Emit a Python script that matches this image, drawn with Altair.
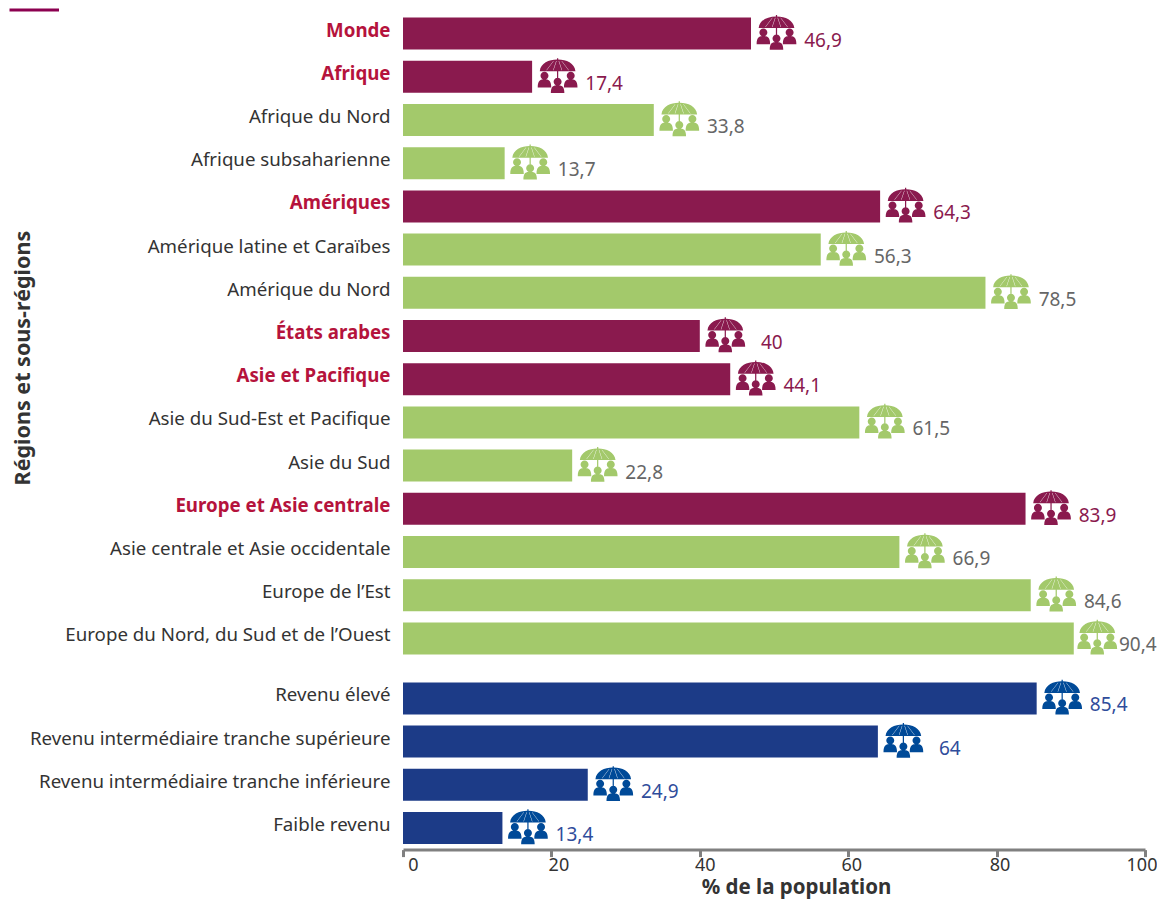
import altair as alt
import pandas as pd

FONT = "Noto Sans"

regions = ["Monde", "Afrique", "Afrique du Nord", "Afrique subsaharienne", "Amériques",
           "Amérique latine et Caraïbes", "Amérique du Nord", "États arabes", "Asie et Pacifique",
           "Asie du Sud-Est et Pacifique", "Asie du Sud", "Europe et Asie centrale",
           "Asie centrale et Asie occidentale", "Europe de l’Est",
           "Europe du Nord, du Sud et de l’Ouest"]
region_values = [46.9, 17.4, 33.8, 13.7, 64.3, 56.3, 78.5, 40, 44.1, 61.5, 22.8, 83.9, 66.9, 84.6, 90.4]
region_levels = ["region", "region", "sub", "sub", "region", "sub", "sub", "region", "region",
                 "sub", "sub", "region", "sub", "sub", "sub"]

incomes = ["Revenu élevé", "Revenu intermédiaire tranche supérieure",
           "Revenu intermédiaire tranche inférieure", "Faible revenu"]
income_values = [85.4, 64, 24.9, 13.4]

tick_values = [0, 20, 40, 60, 80, 100]


def fmt(v):
    return f"{v:g}".replace(".", ",")


top = pd.DataFrame({"name": regions, "value": region_values, "level": region_levels,
                    "label": [fmt(v) for v in region_values]})
bottom = pd.DataFrame({"name": incomes, "value": income_values, "level": ["income"] * 4,
                       "label": [fmt(v) for v in income_values]})


def head(cx, cy, r=0.195):
    return f"M{cx-r} {cy}A{r} {r} 0 1 1 {cx+r} {cy}A{r} {r} 0 1 1 {cx-r} {cy}Z"


def body(cx, top_y, bot_y, w=0.33):
    return (f"M{cx-w} {bot_y}C{cx-w} {top_y+0.05} {cx-w*0.6} {top_y} {cx} {top_y}"
            f"C{cx+w*0.6} {top_y} {cx+w} {top_y+0.05} {cx+w} {bot_y}Z")


def slit(x_top, x_bot, w=0.02):
    return (f"M{x_top} -0.72L{x_bot} -0.27L{x_bot+w} -0.27L{x_top+w} -0.72Z")


ICON = (
    "M-0.87 -0.22C-0.83 -0.62 -0.42 -0.79 -0.03 -0.79L-0.03 -0.86L0.03 -0.86L0.03 -0.79"
    "C0.42 -0.79 0.83 -0.62 0.87 -0.22Z"
    + slit(-0.21, -0.55) + slit(-0.07, -0.22) + slit(0.05, 0.2) + slit(0.19, 0.53)
    + "M-0.03 -0.3L0.03 -0.3L0.03 0.12L-0.03 0.12Z"
    + head(-0.64, 0.0) + body(-0.64, 0.17, 0.57)
    + head(0.64, 0.0) + body(0.64, 0.17, 0.57)
    + head(0.0, 0.29) + body(0.0, 0.46, 0.84)
)

levels = ["region", "sub", "income"]
bar_scale = alt.Scale(domain=levels, range=["#8a1a4e", "#a3c96b", "#1c3b87"])
icon_scale = alt.Scale(domain=levels, range=["#8a1a4e", "#a3c96b", "#004a98"])
text_scale = alt.Scale(domain=levels, range=["#8a1a4e", "#666666", "#2f4c9b"])
x_scale = alt.Scale(domain=[0, 100], nice=False)
strong = [n for n, l in zip(regions, region_levels) if l == "region"]
strong_test = "indexof(" + repr(strong) + ", datum.value) >= 0"
lab_offsets = "{'0':10,'20':7,'40':5,'60':3,'80':3,'100':-3.5}[datum.value]"


def panel(df, names, y_axis, x_axis):
    y = alt.Y("name:N", sort=None, axis=y_axis,
              scale=alt.Scale(domain=names, paddingInner=0.26, paddingOuter=0.13))
    x = alt.X("value:Q", scale=x_scale, axis=x_axis)
    base = alt.Chart(df).encode(y=y)
    bars = base.mark_bar(cornerRadius=0).encode(
        x=x, color=alt.Color("level:N", scale=bar_scale, legend=None))
    icons = base.mark_point(shape=ICON, size=1681, filled=True, opacity=1,
                            xOffset=alt.expr("datum.value > 90 ? 23.5 : 25.5"), yOffset=-1,
                            strokeWidth=0).encode(
        x=alt.X("value:Q", scale=x_scale), color=alt.Color("level:N", scale=icon_scale, legend=None))
    labels = base.mark_text(font=FONT, fontSize=19, dx=alt.expr("datum.value > 90 ? 64 : 72"), dy=7,
                            align="center", baseline="middle").encode(
        x=alt.X("value:Q", scale=x_scale), text="label:N",
        color=alt.Color("level:N", scale=text_scale, legend=None))
    return bars, icons, labels


y_common = dict(labelFont=FONT, labelFontSize=18.7, labelPadding=13, labelOffset=-3, ticks=False,
                domain=False, labelLimit=400, labelAlign="right", minExtent=395, maxExtent=395)

top_y_axis = alt.Axis(title="Régions et sous-régions", titleFont=FONT, titleFontSize=21.5,
                      titleFontWeight=700, titleColor="#333333", titleAngle=270, titleX=-379.5,
                      titleY=345.6, titleAlign="center", titleBaseline="middle",
                      labelColor=alt.expr(f"{strong_test} ? '#b5133c' : '#333333'"),
                      labelFontWeight=alt.expr(f"{strong_test} ? 700 : 400"), **y_common)
bottom_y_axis = alt.Axis(title=None, labelColor="#333333", **y_common)

bottom_x_axis = alt.Axis(values=tick_values, title="% de la population", titleFont=FONT, titleFontSize=20.5,
                         titleFontWeight=700, titleColor="#333333", titleX=393, titleY=44,
                         titleAlign="center", titleBaseline="alphabetic",
                         labelFont=FONT, labelFontSize=18, labelColor="#333333", labelPadding=0,
                         labelAngle=0, labelFlush=False, labelOverlap=False,
                         labelOffset=alt.expr(lab_offsets),
                         domainColor="#808080", domainWidth=3, tickColor="#808080", tickWidth=3, tickSize=7,
                         grid=False)

b1, i1, t1 = panel(top, regions, top_y_axis, None)
accent = alt.Chart(top.head(1)).mark_rule(color="#8c0050", strokeWidth=3).encode(
    x=alt.value(-393.5), x2=alt.value(-344), y=alt.value(-1.9))
top_chart = alt.layer(b1, i1, t1, accent).resolve_scale(color="independent").properties(width=742, height=648)

b2, i2, t2 = panel(bottom, incomes, bottom_y_axis, bottom_x_axis)
bottom_chart = alt.layer(b2, i2, t2).resolve_scale(color="independent").properties(width=742, height=172.8)

chart = alt.vconcat(top_chart, bottom_chart, spacing=16.8, bounds="flush").properties(
    padding=0, background="white"
).configure_view(stroke=None)

chart.save("out.html", embed_options={"renderer": "svg", "actions": False})
